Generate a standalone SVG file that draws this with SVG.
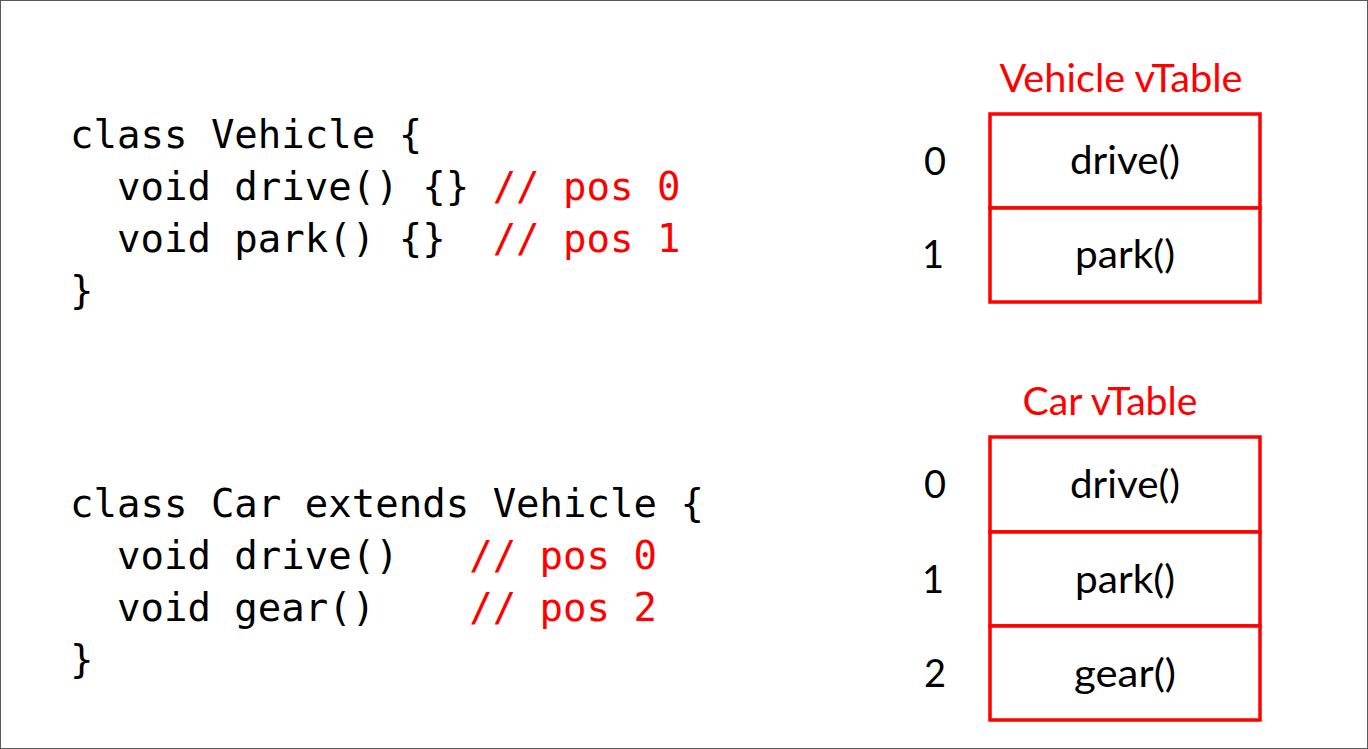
<svg xmlns="http://www.w3.org/2000/svg" width="1368" height="749" viewBox="0 0 1368 749">
<style>
.code{font-family:"DejaVu Sans Mono","Liberation Mono",monospace;font-size:39px;fill:#000;white-space:pre}
.cm{fill:#ff0000}
.lbl{font-family:Lato,"Open Sans","Liberation Sans",sans-serif;font-size:38px;fill:#000;text-anchor:middle}
.title{fill:#ff0000}
.cell{fill:#fff;stroke:#ff0000;stroke-width:3.5}
</style>
<rect x="0.5" y="0.5" width="1367" height="748" fill="#fff" stroke="#595959" stroke-width="1"/>
<g id="code-vehicle">
<text class="code" x="70" y="148" xml:space="preserve">class Vehicle {</text>
<text class="code" x="70" y="200" xml:space="preserve">  void drive() {} <tspan class="cm">// pos 0</tspan></text>
<text class="code" x="70" y="252" xml:space="preserve">  void park() {}  <tspan class="cm">// pos 1</tspan></text>
<text class="code" x="70" y="304" xml:space="preserve">}</text>
</g>
<g id="code-car">
<text class="code" x="70" y="517" xml:space="preserve">class Car extends Vehicle {</text>
<text class="code" x="70" y="569" xml:space="preserve">  void drive()   <tspan class="cm">// pos 0</tspan></text>
<text class="code" x="70" y="621" xml:space="preserve">  void gear()    <tspan class="cm">// pos 2</tspan></text>
<text class="code" x="70" y="673" xml:space="preserve">}</text>
</g>
<g id="vehicle-vtable">
<text class="lbl title" x="1121" y="92" textLength="243" lengthAdjust="spacingAndGlyphs">Vehicle vTable</text>
<rect class="cell" x="990" y="114" width="270" height="94"/>
<rect class="cell" x="990" y="208" width="270" height="94"/>
<text class="lbl" x="1125" y="174" textLength="110" lengthAdjust="spacingAndGlyphs">drive()</text>
<text class="lbl" x="1125" y="268" textLength="100" lengthAdjust="spacingAndGlyphs">park()</text>
<text class="lbl" x="935" y="175">0</text>
<text class="lbl" x="933" y="268">1</text>
</g>
<g id="car-vtable">
<text class="lbl title" x="1110" y="415" textLength="175" lengthAdjust="spacingAndGlyphs">Car vTable</text>
<rect class="cell" x="990" y="437" width="270" height="95"/>
<rect class="cell" x="990" y="532" width="270" height="94"/>
<rect class="cell" x="990" y="626" width="270" height="94"/>
<text class="lbl" x="1125" y="498" textLength="110" lengthAdjust="spacingAndGlyphs">drive()</text>
<text class="lbl" x="1125" y="593" textLength="100" lengthAdjust="spacingAndGlyphs">park()</text>
<text class="lbl" x="1125" y="687" textLength="102" lengthAdjust="spacingAndGlyphs">gear()</text>
<text class="lbl" x="935" y="498">0</text>
<text class="lbl" x="933" y="593">1</text>
<text class="lbl" x="935" y="687">2</text>
</g>
<g id="connectors"></g>
</svg>
